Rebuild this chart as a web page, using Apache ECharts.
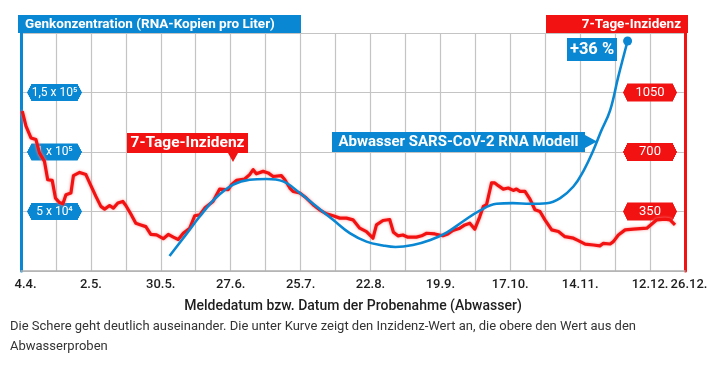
<!DOCTYPE html>
<html>
<head>
<meta charset="utf-8">
<script src="https://cdn.jsdelivr.net/npm/echarts@6/dist/echarts.min.js"></script>
<style>html,body{margin:0;padding:0;background:#fff}#c{width:713px;height:368px}</style>
</head>
<body>
<div id="c"></div>
<script>
// ---- data (day offset from 4.4.) ----
const tickDay   = [0, 28, 56, 84, 112, 140, 168, 196, 224, 252, 266];
const tickLabel = ['4.4.', '2.5.', '30.5.', '27.6.', '25.7.', '22.8.', '19.9.', '17.10.', '14.11.', '12.12.', '26.12.'];

const leftTickVal = [50000, 100000, 150000];
const leftTickLab = ['5 x 10\u2074', '1 x 10\u2075', '1,5 x 10\u2075'];
const rightTickVal = [350, 700, 1050];
const rightTickLab = ['350', '700', '1050'];

// 7-Tage-Inzidenz (right axis)
const incDay = [0.5,2,4,6,7.4,9.4,10.7,12.5,13.8,15.4,16.8,18,20,21,23.5,26,28,30,32,33.5,35.5,37,38.8,40.8,42,44,46,48,50,52,54.3,57,59,61,63,65,67.6,69.6,71.6,73.6,76.9,79.6,83,84.3,86.3,89.6,91.6,93,94.3,97,99,101,104.3,105.7,107.7,109,111.7,114.3,117,119.6,122.4,125,127.7,130.4,133,135.7,138.4,141,142.4,145,147.7,149.2,151,153,155,158.4,160.5,162.5,165.8,169,171,173,175.8,177.8,179.8,181.8,183.8,185.2,186.5,188.5,189.8,191.2,193.2,195.2,197.2,198.5,199.9,201.9,203.9,205.9,207.9,209.9,212.6,215.3,217.9,221.3,223.3,226,229.3,231.9,233.3,236,237.3,239.3,242,245.3,250.7,254.7,258,260,262];
const incVal = [940,852,783,773,695,645,537,533,429,403,395,449,459,561,580,567,502,439,380,364,385,370,400,409,385,335,281,271,261,215,212,190,215,199,185,222,252,325,330,370,409,482,478,508,533,541,567,596,572,586,577,556,561,537,488,468,459,429,390,360,336,325,311,311,301,252,232,193,271,297,303,228,207,212,199,199,207,222,218,207,218,238,252,271,281,246,320,380,390,518,518,502,482,488,474,482,468,468,423,360,350,301,242,232,202,193,179,158,153,148,163,159,173,212,242,246,252,301,305,301,271];

// Abwasser SARS-CoV-2 RNA Modell (left axis)
const modelDay = [59.5,66,71.6,78,85,91.6,98.3,105,111.7,118.4,125,131.7,138.4,145,150,157,164,170.5,177,183.8,190.5,197,204,210.6,216,221.3,225.3,229,232.5,236,239.3,243];
const modelVal = [12600,30350,45800,61300,72500,76700,77300,75300,65500,54200,43000,31800,24700,21500,20200,21900,26100,32300,41600,50800,56500,57000,56500,57000,61300,71000,84000,100000,118000,135000,163500,193300];

const BLUE = '#0a87d2', RED = '#f21212';
const F = 'Roboto, "Noto Sans", sans-serif';

function badge(color) {
  const c = document.createElement('canvas');
  c.width = 220; c.height = 70;
  const g = c.getContext('2d');
  g.fillStyle = color;
  g.beginPath();
  g.moveTo(18, 0); g.lineTo(202, 0); g.lineTo(220, 35); g.lineTo(202, 70); g.lineTo(18, 70); g.lineTo(0, 35);
  g.closePath(); g.fill();
  return c;
}

const chart = echarts.init(document.getElementById('c'), null, {renderer: 'canvas'});
const lastIdx = modelDay.length - 1;
const xFont = {color: '#1e1e1e', fontSize: 13, fontWeight: 500, fontFamily: F};
const dayLabel = v => {
  const i = tickDay.indexOf(v);
  if (i < 0) return '';
  return i === 0 ? '{first|' + tickLabel[i] + '}' : tickLabel[i];
};
const xLabelStyle = Object.assign({margin: 7, formatter: dayLabel,
  rich: {first: Object.assign({padding: [0, 0, 0, 9]}, xFont)}}, xFont);

chart.setOption({
  animation: false,
  backgroundColor: '#fff',
  textStyle: {fontFamily: F},
  grid: {left: 21, right: 28, top: 33, bottom: 97, outerBoundsMode: 'none', containLabel: false},
  xAxis: [
    {
      type: 'value', min: 0, max: 266, interval: 14, position: 'bottom',
      axisLine: {show: true, onZero: false, lineStyle: {color: '#b0b0b0', width: 1.5}},
      axisTick: {show: false},
      splitLine: {show: true, lineStyle: {color: '#c4c4c4', width: 1.2}},
      axisLabel: Object.assign({customValues: tickDay.slice(0, -1)}, xLabelStyle),
      name: 'Meldedatum bzw. Datum der Probenahme (Abwasser)',
      nameLocation: 'middle', nameGap: 28,
      nameTextStyle: {color: '#1e1e1e', fontSize: 14, fontWeight: 500, fontFamily: F}
    },
    {
      type: 'value', min: 0, max: 266, interval: 14, position: 'bottom', offset: 0,
      axisLine: {show: false, onZero: false}, axisTick: {show: false}, splitLine: {show: false},
      axisLabel: Object.assign({customValues: tickDay.slice(-1)}, xLabelStyle, {padding: [0, 0, 0, 8]})
    }
  ],
  yAxis: [
    {
      type: 'value', min: 0, max: 200000, interval: 50000, position: 'left',
      axisLine: {show: true, onZero: false, lineStyle: {color: BLUE, width: 3}},
      axisTick: {show: false},
      splitLine: {show: true, lineStyle: {color: '#c4c4c4', width: 1.2}},
      axisLabel: {
        customValues: leftTickVal,
        inside: true, margin: 33.5, align: 'center', verticalAlign: 'middle',
        color: '#fff', fontSize: 12, fontFamily: F,
        backgroundColor: {image: badge(BLUE)}, padding: [2, 4], width: 47, lineHeight: 13,
        formatter: v => { const i = leftTickVal.indexOf(v); return i < 0 ? '' : leftTickLab[i]; }
      }
    },
    {
      type: 'value', min: 0, max: 1400, interval: 350, position: 'right',
      axisLine: {show: true, onZero: false, lineStyle: {color: RED, width: 3}},
      axisTick: {show: false},
      splitLine: {show: false},
      axisLabel: {
        customValues: rightTickVal,
        inside: true, margin: 35, align: 'center', verticalAlign: 'middle',
        color: '#fff', fontSize: 13, fontFamily: F,
        backgroundColor: {image: badge(RED)}, padding: [2, 4], width: 46, lineHeight: 14,
        formatter: v => { const i = rightTickVal.indexOf(v); return i < 0 ? '' : rightTickLab[i]; }
      }
    }
  ],
  series: [
    {
      type: 'line', xAxisIndex: 0, yAxisIndex: 1, symbol: 'none',
      data: incDay.map((d, i) => [d, incVal[i]]),
      lineStyle: {color: RED, width: 3.2, join: 'round', shadowColor: 'rgba(255,140,140,0.9)', shadowBlur: 3},
      z: 3
    },
    {
      type: 'line', xAxisIndex: 0, yAxisIndex: 0, smooth: 0.4, symbol: 'circle',
      symbolSize: (v, p) => p.dataIndex === lastIdx ? 9 : 0,
      showSymbol: true,
      itemStyle: {color: BLUE},
      data: modelDay.map((d, i) => [d, modelVal[i]]),
      lineStyle: {color: BLUE, width: 2.6},
      z: 4
    }
  ],
  graphic: [
    {type: 'rect', shape: {x: 18, y: 15, width: 283, height: 18}, style: {fill: BLUE}, z: 10},
    {type: 'text', x: 25, y: 24.5, z: 11, style: {text: 'Genkonzentration (RNA-Kopien pro Liter)', fill: '#fff', font: 'bold 13.5px ' + F, verticalAlign: 'middle'}},
    {type: 'rect', shape: {x: 546, y: 15, width: 142, height: 18}, style: {fill: RED}, z: 10},
    {type: 'text', x: 681, y: 24.5, z: 11, style: {text: '7-Tage-Inzidenz', fill: '#fff', font: 'bold 13.5px ' + F, align: 'right', verticalAlign: 'middle'}},
    {type: 'polygon', z: 10, shape: {points: [[127,133],[248,133],[248,153],[238,153],[233,162],[228,153],[127,153]]}, style: {fill: RED}},
    {type: 'text', x: 187.5, y: 143.5, z: 11, style: {text: '7-Tage-Inzidenz', fill: '#fff', font: 'bold 15.5px ' + F, align: 'center', verticalAlign: 'middle'}},
    {type: 'polygon', z: 10, shape: {points: [[332,132],[585,132],[585,135],[597,141.5],[585,148],[585,152],[332,152]]}, style: {fill: BLUE}},
    {type: 'text', x: 458.5, y: 142.5, z: 11, style: {text: 'Abwasser SARS-CoV-2 RNA Modell', fill: '#fff', font: 'bold 15px ' + F, align: 'center', verticalAlign: 'middle'}},
    {type: 'rect', shape: {x: 567, y: 38, width: 50, height: 23}, style: {fill: BLUE}, z: 10},
    {type: 'text', x: 592, y: 50, z: 11, style: {text: '+36 %', fill: '#fff', font: 'bold 16.5px ' + F, align: 'center', verticalAlign: 'middle'}},
    {type: 'text', x: 10, y: 317, z: 11, style: {text: 'Die Schere geht deutlich auseinander. Die unter Kurve zeigt den Inzidenz-Wert an, die obere den Wert aus den\nAbwasserproben', fill: '#333', font: '13px ' + F, lineHeight: 20}}
  ]
});
</script>
</body>
</html>
